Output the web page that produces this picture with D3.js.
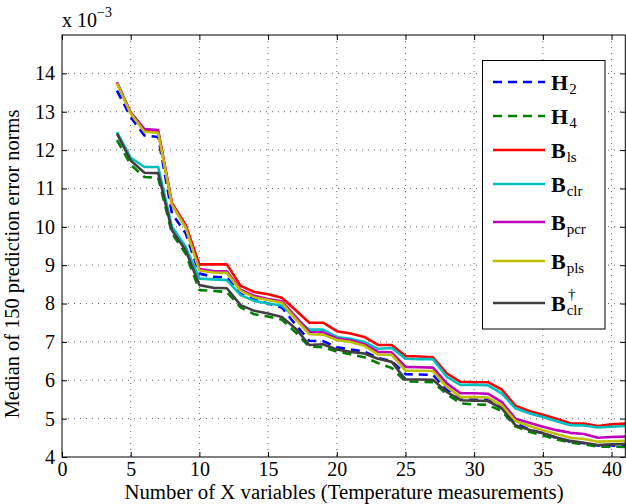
<!DOCTYPE html>
<html>
<head>
<meta charset="utf-8">
<script src="https://cdn.jsdelivr.net/npm/d3@7"></script>
<style>
  body { margin: 0; background: #fff; }
  svg { display: block; font-family: "Liberation Serif", "DejaVu Serif", serif; }
</style>
</head>
<body>
<svg id="chart" width="626" height="504"></svg>
<script>
// number of X variables
const nVars = [4, 5, 6, 7, 8, 9, 10, 11, 12, 13, 14, 15, 16, 17, 18, 19, 20, 21, 22,
  23, 24, 25, 26, 27, 28, 29, 30, 31, 32, 33, 34, 35, 36, 37, 38, 39, 40, 41];

// medians, x 1e-3
const H2 = [13.55, 12.86, 12.38, 12.34, 10.35, 9.83, 8.78, 8.70, 8.68, 8.25, 8.10, 8.00, 7.90,
  7.45, 7.03, 7.02, 6.86, 6.80, 6.75, 6.58, 6.50, 6.16, 6.15, 6.14, 5.75, 5.50, 5.50, 5.50,
  5.30, 4.88, 4.72, 4.62, 4.50, 4.40, 4.36, 4.30, 4.30, 4.28];
const H4 = [12.26, 11.62, 11.30, 11.28, 9.83, 9.30, 8.35, 8.33, 8.30, 7.90, 7.72, 7.66, 7.58,
  7.25, 6.88, 6.86, 6.75, 6.68, 6.60, 6.45, 6.32, 5.97, 5.96, 5.95, 5.64, 5.40, 5.37, 5.36,
  5.20, 4.80, 4.66, 4.56, 4.46, 4.38, 4.33, 4.27, 4.27, 4.26];
const Bls = [13.75, 12.97, 12.52, 12.48, 10.62, 10.05, 9.02, 9.02, 9.02, 8.46, 8.30, 8.24, 8.15,
  7.83, 7.50, 7.50, 7.28, 7.22, 7.13, 6.92, 6.92, 6.63, 6.62, 6.60, 6.18, 5.96, 5.95, 5.95,
  5.76, 5.34, 5.20, 5.10, 5.00, 4.88, 4.87, 4.81, 4.85, 4.87];
const Bclr = [12.47, 11.80, 11.56, 11.56, 10.00, 9.48, 8.65, 8.63, 8.61, 8.22, 8.07, 8.00, 7.95,
  7.62, 7.32, 7.32, 7.13, 7.08, 7.00, 6.82, 6.84, 6.56, 6.55, 6.55, 6.09, 5.88, 5.88, 5.87,
  5.66, 5.27, 5.14, 5.04, 4.93, 4.83, 4.82, 4.77, 4.79, 4.81];
const Bpcr = [13.77, 12.98, 12.55, 12.52, 10.60, 10.00, 8.90, 8.85, 8.84, 8.36, 8.20, 8.12, 8.06,
  7.66, 7.26, 7.25, 7.09, 7.04, 6.94, 6.74, 6.73, 6.35, 6.34, 6.33, 5.92, 5.66, 5.66, 5.65,
  5.44, 5.00, 4.89, 4.79, 4.70, 4.63, 4.60, 4.50, 4.52, 4.53];
const Bpls = [13.74, 12.95, 12.48, 12.45, 10.58, 9.98, 8.86, 8.81, 8.80, 8.33, 8.16, 8.09, 8.02,
  7.60, 7.20, 7.19, 7.05, 7.00, 6.90, 6.67, 6.66, 6.25, 6.25, 6.24, 5.83, 5.56, 5.56, 5.55,
  5.35, 4.94, 4.81, 4.70, 4.60, 4.50, 4.47, 4.40, 4.41, 4.42];
const BclrDag = [12.43, 11.73, 11.41, 11.40, 9.91, 9.39, 8.48, 8.41, 8.40, 7.96, 7.81, 7.74, 7.65,
  7.35, 6.92, 6.94, 6.80, 6.74, 6.70, 6.56, 6.48, 6.02, 6.02, 6.01, 5.70, 5.48, 5.47, 5.46,
  5.27, 4.83, 4.71, 4.62, 4.51, 4.42, 4.37, 4.31, 4.33, 4.34];

const xTicks = [0, 5, 10, 15, 20, 25, 30, 35, 40];
const yTicks = [4, 5, 6, 7, 8, 9, 10, 11, 12, 13, 14];

const series = [
  { values: H2, color: '#0000ff', dash: '9,6', main: 'H', sub: '2' },
  { values: H4, color: '#008000', dash: '9,6', main: 'H', sub: '4' },
  { values: Bls, color: '#ff0000', dash: null, main: 'B', sub: 'ls' },
  { values: Bclr, color: '#00bfbf', dash: null, main: 'B', sub: 'clr' },
  { values: Bpcr, color: '#bf00bf', dash: null, main: 'B', sub: 'pcr' },
  { values: Bpls, color: '#bfbf00', dash: null, main: 'B', sub: 'pls' },
  { values: BclrDag, color: '#404040', dash: null, main: 'B', sub: 'clr', sup: '\u2020' },
];

const svg = d3.select('#chart');
const pLeft = 62, pRight = 625.3, pTop = 35, pBottom = 457;

const x = d3.scaleLinear().domain([0, 41]).range([pLeft, pRight]);
const y = d3.scaleLinear().domain([4, 15]).range([pBottom, pTop]);

// grid
const grid = svg.append('g').attr('stroke', '#000').attr('stroke-width', 0.6)
  .attr('stroke-dasharray', '1,5');
grid.selectAll('.gx').data(xTicks.filter(d => d > 0)).join('line')
  .attr('x1', d => x(d)).attr('x2', d => x(d)).attr('y1', pTop).attr('y2', pBottom);
grid.selectAll('.gy').data(yTicks.filter(d => d > 4)).join('line')
  .attr('y1', d => y(d)).attr('y2', d => y(d)).attr('x1', pLeft).attr('x2', pRight);

// lines
const line = d3.line().x((d, i) => x(nVars[i])).y(d => y(d));
svg.append('clipPath').attr('id', 'clip').append('rect')
  .attr('x', pLeft).attr('y', pTop).attr('width', pRight - pLeft).attr('height', pBottom - pTop);
const lines = svg.append('g').attr('clip-path', 'url(#clip)');
series.forEach(s => {
  lines.append('path').datum(s.values)
    .attr('d', line)
    .attr('fill', 'none')
    .attr('stroke', s.color)
    .attr('stroke-width', 2.6)
    .attr('stroke-dasharray', s.dash)
    .attr('stroke-linejoin', 'round');
});

// axes (ticks inside, mirrored)
const fmt = d => d;
const axB = svg.append('g').attr('transform', `translate(0,${pBottom})`)
  .call(d3.axisBottom(x).tickValues(xTicks).tickSize(-5).tickPadding(5).tickFormat(fmt));
const axT = svg.append('g').attr('transform', `translate(0,${pTop})`)
  .call(d3.axisTop(x).tickValues(xTicks).tickSize(-5).tickFormat(''));
const axL = svg.append('g').attr('transform', `translate(${pLeft},0)`)
  .call(d3.axisLeft(y).tickValues(yTicks).tickSize(-5).tickPadding(7).tickFormat(fmt));
const axR = svg.append('g').attr('transform', `translate(${pRight},0)`)
  .call(d3.axisRight(y).tickValues(yTicks).tickSize(-5).tickFormat(''));
[axB, axT, axL, axR].forEach(a => {
  a.select('.domain').remove();
  a.selectAll('line').attr('stroke', '#000');
  a.selectAll('text').attr('fill', '#000').style('font-size', '20px')
    .style('font-family', '"Liberation Serif", serif');
});
axB.selectAll('text').attr('dy', '0.71em');

svg.append('rect').attr('x', pLeft).attr('y', pTop)
  .attr('width', pRight - pLeft).attr('height', pBottom - pTop)
  .attr('fill', 'none').attr('stroke', '#000').attr('stroke-width', 1);

// exponent label
const ex = svg.append('text').attr('x', 62).attr('y', 27).style('font-size', '20px');
ex.append('tspan').text('x 10');
ex.append('tspan').attr('dy', -10).style('font-size', '14px').text('\u22123');

// axis titles
svg.append('text').attr('x', 344).attr('y', 499)
  .attr('text-anchor', 'middle').style('font-size', '20.8px')
  .text('Number of X variables (Temperature measurements)');
svg.append('text')
  .attr('transform', `translate(19,${(pTop + pBottom) / 2 + 18}) rotate(-90)`)
  .attr('text-anchor', 'middle').style('font-size', '20.4px')
  .text('Median of 150 prediction error norms');

// legend
const legRows = [82, 116, 150, 184, 222, 261, 303];
const leg = svg.append('g');
leg.append('rect').attr('x', 482.5).attr('y', 60.5).attr('width', 122.5).attr('height', 268.5)
  .attr('fill', '#fff').attr('stroke', '#000').attr('stroke-width', 1);
series.forEach((s, i) => {
  const ly = legRows[i];
  leg.append('line').attr('x1', 493).attr('x2', 545).attr('y1', ly).attr('y2', ly)
    .attr('stroke', s.color).attr('stroke-width', 2.6).attr('stroke-dasharray', s.dash);
  const t = leg.append('text').attr('x', 551).attr('y', ly + 8);
  t.append('tspan').style('font-size', '22px').style('font-weight', 'bold').text(s.main);
  t.append('tspan').attr('dx', 1).attr('dy', 4).style('font-size', '15px').text(s.sub);
  if (s.sup) {
    leg.append('text').attr('x', 568).attr('y', ly - 4).style('font-size', '15px').text(s.sup);
  }
});
</script>
</body>
</html>
